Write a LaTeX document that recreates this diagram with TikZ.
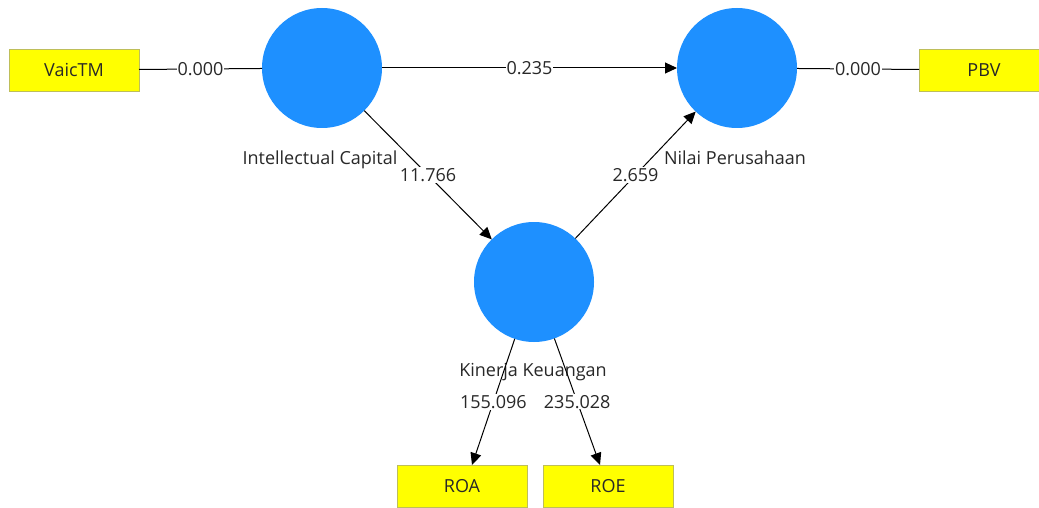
\documentclass[tikz,border=0pt]{standalone}
\usepackage{fontspec}
\setmainfont{Open Sans}
\usetikzlibrary{arrows.meta}
\definecolor{lvblue}{RGB}{30,144,255}
\definecolor{mvyellow}{RGB}{255,255,0}
\definecolor{mvborder}{RGB}{190,190,90}
\definecolor{txt}{RGB}{40,40,40}
\begin{document}
\begin{tikzpicture}[x=1pt,y=-1pt,
  latent/.style={circle,fill=lvblue,draw=none,minimum size=120pt,inner sep=0pt,outer sep=0pt},
  indicator/.style={rectangle,fill=mvyellow,draw=mvborder,line width=0.8pt,minimum width=130pt,minimum height=42pt,inner sep=0pt,outer sep=0pt,font=\fontsize{18}{20}\selectfont,text=txt},
  lvlabel/.style={font=\fontsize{18}{20}\selectfont,text=txt,inner sep=1pt},
  elabel/.style={font=\fontsize{18}{20}\selectfont,text=txt,fill=white,inner sep=1pt},
  conn/.style={draw=black,line width=1pt},
  arr/.style={conn,-{Triangle[length=12pt,width=11pt]}}
]
\useasboundingbox (0,0) rectangle (1039,508);
\fill[white] (0,0) rectangle (1039,508);
\clip (0,0) rectangle (1039,508);
% latent variables
\node[latent] (IC) at (322,68) {};
\node[latent] (NP) at (737,68) {};
\node[latent] (KK) at (534,282) {};
% latent labels
\node[lvlabel] (ICl) at (320,160) {Intellectual Capital};
\node[lvlabel] (NPl) at (735,158) {Nilai Perusahaan};
\node[lvlabel] (KKl) at (533,372) {Kinerja Keuangan};
% indicators
\node[indicator] (V) at (74,70) {VaicTM};
\node[indicator] (PBV) at (984,70) {PBV};
\node[indicator] (ROA) at (462,486) {ROA};
\node[indicator] (ROE) at (608,486) {ROE};
% connectors
\draw[conn] (V) -- node[elabel] {0.000} (IC);
\draw[conn] (NP) -- node[elabel] {0.000} (PBV);
\draw[arr] (IC) -- node[elabel] {0.235} (NP);
\draw[arr] (IC) -- node[elabel] {11.766} (KK);
\draw[arr] (KK) -- node[elabel] {2.659} (NP);
\draw[arr] (KK) -- node[elabel] {155.096} ([xshift=10pt]ROA.north);
\draw[arr] (KK) -- node[elabel] {235.028} ([xshift=-8pt]ROE.north);
\end{tikzpicture}
\end{document}
